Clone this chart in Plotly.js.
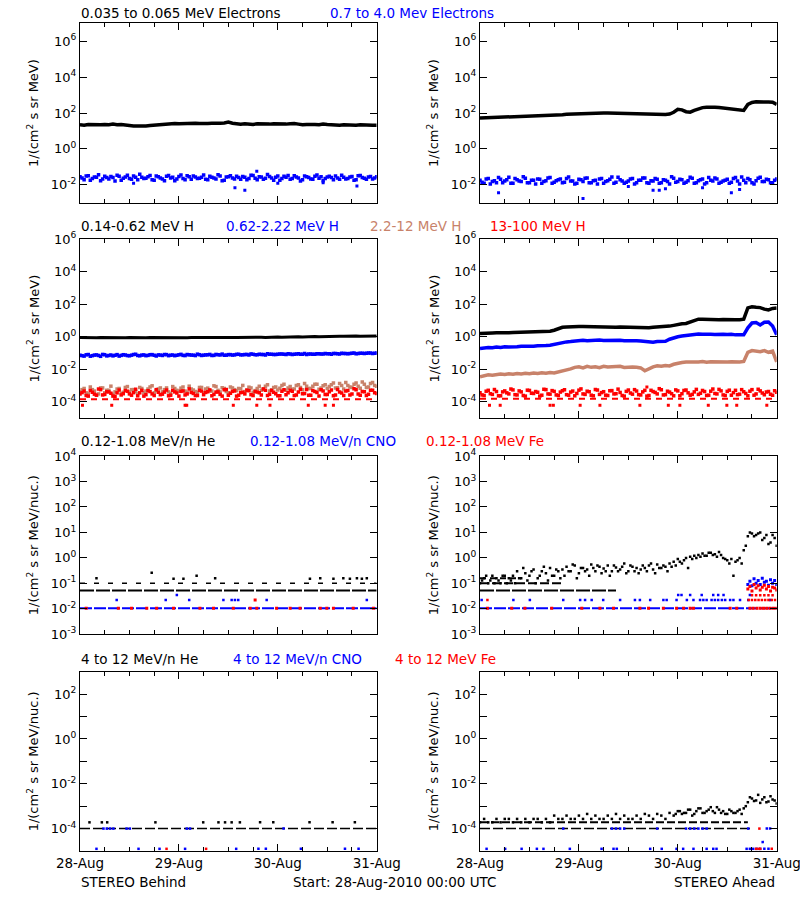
<!DOCTYPE html>
<html><head><meta charset="utf-8">
<script src="https://cdn.plot.ly/plotly-3.0.1.min.js"></script>
<style>html,body{margin:0;padding:0;background:#fff}#chart{width:800px;height:900px}</style>
</head><body><div id="chart"></div>
<script>
// ---------- time grid (hours since 28-Aug-2010 00:00 UTC) ----------
const HOURS = [0,1,2,3,4,5,6,7,8,9,10,11,12,13,14,15,16,17,18,19,20,21,22,23,24,25,26,27,28,29,30,31,32,33,34,35,36,37,38,39,40,41,42,43,44,45,46,47,48,49,50,51,52,53,54,55,56,57,58,59,60,61,62,63,64,65,66,67,68,69,70,71,72];
const HALF_HOURS = [0.5,1.5,2.5,3.5,4.5,5.5,6.5,7.5,8.5,9.5,10.5,11.5,12.5,13.5,14.5,15.5,16.5,17.5,18.5,19.5,20.5,21.5,22.5,23.5,24.5,25.5,26.5,27.5,28.5,29.5,30.5,31.5,32.5,33.5,34.5,35.5,36.5,37.5,38.5,39.5,40.5,41.5,42.5,43.5,44.5,45.5,46.5,47.5,48.5,49.5,50.5,51.5,52.5,53.5,54.5,55.5,56.5,57.5,58.5,59.5,60.5,61.5,62.5,63.5,64.5,65.5,66.5,67.5,68.5,69.5,70.5,71.5];
const DAY_TICKS = [0,24,48,72];
const DAY_LABELS = ['28-Aug','29-Aug','30-Aug','31-Aug'];

// ---------- row 1 : electrons ----------
const E_LO_B = [22,21,23,22,21,22,23,22,24,22, 23,21,20,19,19,18,19,20,21,23, 24,25,24,26,25,26,25,26,27,26, 25,26,27,26,27,28,31,27,25,24, 25,24,23,25,24,23,24,25,24,23, 24,25,26,24,22,23,24,23,22,24, 23,22,22,21,22,21,20,21,22,21, 20,21,21];
const E_HI_B = [0.028,0.019,0.032,0.022,0.026,0.017,0.030,0.021,0.025,0.034, 0.018,0.027,0.022,0.031,0.019,0.026,0.023,0.033,0.018,0.028, 0.021,0.030,0.024,0.017,0.029,0.022,0.032,0.020,0.027,0.023, 0.035,0.019,0.026,0.021,0.031,0.018,0.028,0.024,0.030,0.020, 0.026,0.022,0.033,0.019,0.027,0.023,0.029,0.018,0.031,0.022, 0.026,0.020,0.032,0.024,0.019,0.028,0.021,0.030,0.023,0.017, 0.027,0.025,0.031,0.020,0.026,0.022,0.029,0.019,0.033,0.023, 0.027,0.021,0.028];
const E_HI_B2 = [0.024,0.031,0.018,0.027,0.036,0.021,0.025,0.029,0.016,0.030, 0.023,0.034,0.020,0.026,0.038,0.022,0.028,0.019,0.031,0.024, 0.017,0.033,0.026,0.021,0.035,0.019,0.028,0.031,0.022,0.026, 0.020,0.030,0.024,0.036,0.017,0.027,0.032,0.021,0.025,0.029, 0.019,0.034,0.023,0.028,0.020,0.037,0.024,0.026,0.018,0.030, 0.033,0.022,0.027,0.016,0.031,0.025,0.020,0.035,0.028,0.022, 0.030,0.019,0.024,0.034,0.021,0.027,0.018,0.032,0.025,0.020, 0.029,0.024];
const E_HI_B_OUT_X = [13,37.6,40,42.9,48,59,67.2];
const E_HI_B_OUT_Y = [0.012,0.0068,0.005,0.057,0.012,0.013,0.0085];
const E_LO_A = [52,53,55,54,56,58,57,59,60,62, 61,63,65,66,68,70,72,74,76,78, 80,84,86,90,95,98,100,97,102,99, 101,100,98,96,99,97,95,96,94,92, 90,88,85,82,80,83,88,110,160,150, 118,112,140,170,200,210,215,210,200,190, 180,170,160,150,140,300,390,420,430,420, 410,400,300];
const E_HI_A = [0.018,0.012,0.022,0.015,0.013,0.020,0.016,0.026,0.012,0.019, 0.015,0.023,0.013,0.018,0.021,0.012,0.017,0.025,0.014,0.019, 0.013,0.022,0.016,0.011,0.020,0.015,0.024,0.013,0.018,0.021, 0.012,0.017,0.027,0.014,0.019,0.012,0.016,0.022,0.013,0.018, 0.024,0.012,0.016,0.020,0.013,0.018,0.011,0.023,0.015,0.019, 0.014,0.026,0.012,0.017,0.021,0.013,0.018,0.024,0.012,0.016, 0.020,0.014,0.025,0.011,0.018,0.022,0.013,0.017,0.026,0.015, 0.019,0.013,0.021];
const E_HI_A2 = [0.014,0.021,0.011,0.017,0.025,0.013,0.019,0.012,0.022,0.016, 0.028,0.013,0.018,0.011,0.020,0.015,0.024,0.012,0.017,0.021, 0.014,0.027,0.016,0.012,0.019,0.023,0.013,0.017,0.011,0.022, 0.015,0.020,0.012,0.026,0.016,0.014,0.021,0.011,0.018,0.024, 0.013,0.017,0.022,0.012,0.019,0.015,0.028,0.014,0.020,0.012, 0.017,0.023,0.013,0.019,0.011,0.025,0.016,0.021,0.014,0.018, 0.012,0.022,0.016,0.027,0.013,0.019,0.011,0.023,0.015,0.020, 0.013,0.018];
const E_HI_A_OUT_X = [4.5,25,36,42,43.5,45,54,61,63];
const E_HI_A_OUT_Y = [0.0036,0.0017,0.008,0.005,0.005,0.006,0.0068,0.0036,0.0055];

// ---------- row 2 : protons ----------
const P1_B = [0.88,0.86,0.89,0.87,0.85,0.88,0.86,0.87,0.89,0.86, 0.87,0.85,0.88,0.86,0.87,0.85,0.86,0.88,0.87,0.86, 0.88,0.87,0.89,0.86,0.88,0.87,0.86,0.88,0.89,0.87, 0.88,0.90,0.87,0.89,0.88,0.90,0.89,0.91,0.88,0.90, 0.91,0.89,0.92,0.90,0.93,0.91,0.94,0.92,0.95,0.93, 0.96,0.94,0.97,0.98,0.96,1.00,0.98,1.02,1.00,1.03, 1.05,1.03,1.06,1.08,1.05,1.09,1.07,1.10,1.08,1.11, 1.10,1.12,1.10];
const P2_B = [0.072,0.064,0.080,0.068,0.076,0.062,0.078,0.070,0.066,0.079, 0.071,0.075,0.067,0.080,0.070,0.074,0.068,0.078,0.072,0.076, 0.070,0.079,0.073,0.068,0.077,0.071,0.080,0.074,0.069,0.078, 0.073,0.077,0.070,0.081,0.075,0.072,0.079,0.074,0.082,0.076, 0.080,0.075,0.083,0.078,0.081,0.076,0.084,0.079,0.082,0.086, 0.080,0.085,0.082,0.088,0.084,0.080,0.087,0.083,0.089,0.085, 0.088,0.084,0.091,0.087,0.093,0.089,0.095,0.090,0.097,0.092, 0.098,0.094,0.100];
const P2_B2 = [0.068,0.077,0.063,0.074,0.070,0.081,0.066,0.075,0.072,0.064, 0.078,0.069,0.073,0.083,0.067,0.076,0.071,0.079,0.065,0.074, 0.080,0.068,0.075,0.072,0.082,0.069,0.077,0.073,0.084,0.070, 0.076,0.081,0.071,0.078,0.085,0.073,0.079,0.076,0.083,0.077, 0.081,0.087,0.078,0.084,0.080,0.088,0.082,0.079,0.086,0.083, 0.089,0.081,0.087,0.084,0.091,0.086,0.083,0.090,0.087,0.094, 0.089,0.092,0.088,0.096,0.091,0.094,0.099,0.093,0.097,0.095, 0.101,0.096];
const P3_B = [4.0e-4,6.5e-4,3.0e-4,5.5e-4,2.6e-4,7.0e-4,3.5e-4,5.0e-4,2.8e-4,6.0e-4, 3.2e-4,7.5e-4,4.0e-4,5.5e-4,3.0e-4,6.5e-4,4.5e-4,8.0e-4,3.5e-4,6.0e-4, 4.0e-4,7.0e-4,3.2e-4,6.5e-4,4.5e-4,8.0e-4,3.8e-4,6.0e-4,4.2e-4,7.5e-4, 3.6e-4,6.8e-4,4.5e-4,8.5e-4,4.0e-4,6.5e-4,3.5e-4,7.0e-4,4.8e-4,6.2e-4, 4.2e-4,7.8e-4,3.8e-4,6.5e-4,5.0e-4,9.0e-4,4.5e-4,7.5e-4,5.2e-4,1.0e-3, 5.0e-4,8.5e-4,6.0e-4,1.1e-3,5.5e-4,9.0e-4,6.5e-4,1.2e-3,5.8e-4,9.5e-4, 6.5e-4,1.1e-3,7.0e-4,1.3e-3,6.0e-4,1.0e-3,7.5e-4,1.4e-3,6.8e-4,1.2e-3, 8.0e-4,1.5e-3,9.0e-4];
const P3_B2 = [5.5e-4,3.5e-4,8.0e-4,4.5e-4,3.0e-4,7.0e-4,5.0e-4,9.0e-4,4.0e-4,6.5e-4, 3.8e-4,8.5e-4,5.5e-4,4.2e-4,7.5e-4,3.5e-4,6.0e-4,9.5e-4,4.8e-4,7.0e-4, 5.5e-4,4.0e-4,8.5e-4,5.0e-4,6.8e-4,4.5e-4,9.0e-4,5.2e-4,3.8e-4,7.5e-4, 6.0e-4,4.5e-4,9.5e-4,5.0e-4,7.2e-4,4.2e-4,8.0e-4,5.5e-4,6.5e-4,1.0e-3, 5.2e-4,7.0e-4,4.8e-4,9.0e-4,6.2e-4,1.1e-3,5.5e-4,8.0e-4,6.8e-4,1.2e-3, 7.0e-4,5.8e-4,1.0e-3,7.5e-4,1.3e-3,6.5e-4,9.0e-4,1.2e-3,7.0e-4,1.1e-3, 8.5e-4,1.4e-3,7.2e-4,1.0e-3,1.5e-3,8.0e-4,1.2e-3,9.0e-4,1.6e-3,7.5e-4, 1.3e-3,1.0e-3];
const P4_B = [3.0e-4,4.5e-4,2.2e-4,3.8e-4,2.5e-4,5.5e-4,2.8e-4,4.0e-4,2.2e-4,3.5e-4, 2.6e-4,4.8e-4,3.0e-4,3.6e-4,2.3e-4,5.0e-4,2.7e-4,4.2e-4,2.4e-4,3.8e-4, 2.9e-4,5.2e-4,2.5e-4,4.0e-4,2.2e-4,4.6e-4,3.0e-4,3.7e-4,2.4e-4,5.0e-4, 2.7e-4,4.1e-4,2.3e-4,3.9e-4,2.8e-4,5.4e-4,2.5e-4,4.3e-4,2.2e-4,3.6e-4, 3.0e-4,4.7e-4,2.4e-4,4.0e-4,2.6e-4,5.1e-4,2.9e-4,3.8e-4,2.3e-4,4.4e-4, 2.7e-4,5.0e-4,2.4e-4,3.9e-4,3.1e-4,5.6e-4,2.5e-4,4.2e-4,2.2e-4,4.6e-4, 2.8e-4,5.3e-4,2.6e-4,4.0e-4,2.4e-4,4.8e-4,3.0e-4,5.5e-4,2.5e-4,4.1e-4, 2.9e-4,5.0e-4,3.2e-4];
const P4_B2 = [3.6e-4,2.4e-4,4.9e-4,2.9e-4,6.0e-4,2.6e-4,4.1e-4,3.3e-4,2.1e-4,5.2e-4, 3.1e-4,4.4e-4,2.5e-4,5.8e-4,3.5e-4,2.2e-4,4.7e-4,3.0e-4,5.5e-4,2.7e-4, 3.9e-4,2.3e-4,5.0e-4,3.4e-4,4.3e-4,2.6e-4,6.1e-4,3.2e-4,2.4e-4,4.5e-4, 3.7e-4,5.3e-4,2.8e-4,4.0e-4,2.2e-4,5.6e-4,3.3e-4,4.6e-4,2.5e-4,3.8e-4, 5.1e-4,2.7e-4,4.2e-4,3.5e-4,6.0e-4,2.4e-4,4.8e-4,3.1e-4,2.3e-4,5.4e-4, 3.6e-4,4.4e-4,2.6e-4,5.9e-4,3.2e-4,2.5e-4,4.9e-4,3.7e-4,5.5e-4,2.8e-4, 4.1e-4,2.3e-4,5.7e-4,3.4e-4,4.5e-4,2.6e-4,6.2e-4,3.0e-4,4.3e-4,2.4e-4, 5.0e-4,3.5e-4];
const P4_B_LVL_X = [0,72];
const P4_B_LVL_Y = [1.4e-4,1.4e-4];
const P4_B_OUT_X = [0.6,7.7,25.5,25.9,37.2,42.9,46.1,55.4,59.5,61.5];
const P4_B_OUT_Y = [6e-5,6e-5,6e-5,6e-5,6e-5,6e-5,6e-5,6e-5,6e-5,6e-5];
const P1_A = [1.6,1.7,1.65,1.7,1.75,1.7,1.8,1.75,1.8,1.85, 1.8,1.9,1.85,1.9,2.0,2.0,2.1,2.2,2.5,3.2, 3.8,4.0,4.2,4.1,4.3,4.2,4.1,4.0,4.1,3.9, 4.0,4.1,3.9,3.8,4.0,3.9,3.8,3.7,3.8,3.9, 3.7,3.6,3.8,3.9,4.0,4.2,4.5,5.0,5.8,6.2, 6.5,8,11,12,12,11.5,12,11.5,11,11.5, 11,11.5,11,11,12,60,70,65,62,50, 45,55,58];
const P2_A = [0.19,0.21,0.22,0.21,0.23,0.22,0.24,0.23,0.25,0.24, 0.26,0.25,0.27,0.26,0.28,0.27,0.29,0.30,0.34,0.42, 0.46,0.48,0.5,0.55,0.58,0.6,0.57,0.61,0.59,0.62, 0.58,0.6,0.57,0.59,0.6,0.56,0.58,0.55,0.57,0.54, 0.5,0.48,0.46,0.5,0.48,0.52,0.7,0.85,1.0,1.1, 1.2,1.35,1.4,1.45,1.4,1.5,1.42,1.38,1.45,1.4, 1.36,1.42,1.3,1.25,1.3,3.5,7.0,7.5,5.3,7.8, 8.0,4.6,1.3];
const P3_A = [0.0034,0.0040,0.0045,0.0042,0.0048,0.0050,0.0047,0.0052,0.0049,0.0055, 0.0051,0.0056,0.0053,0.0058,0.0054,0.0060,0.0057,0.0062,0.0059,0.0068, 0.0072,0.0090,0.0105,0.013,0.014,0.012,0.015,0.013,0.014,0.0125, 0.015,0.0135,0.014,0.013,0.015,0.0128,0.014,0.0135,0.013,0.012, 0.008,0.011,0.014,0.016,0.015,0.017,0.016,0.020,0.024,0.026, 0.028,0.027,0.029,0.028,0.030,0.027,0.029,0.028,0.030,0.027, 0.028,0.029,0.027,0.028,0.030,0.11,0.14,0.13,0.12,0.14, 0.11,0.13,0.028];
const P4_A = [3.5e-4,2.4e-4,5.0e-4,2.8e-4,4.2e-4,2.3e-4,4.6e-4,3.0e-4,5.3e-4,2.6e-4, 4.0e-4,2.2e-4,4.9e-4,3.2e-4,3.8e-4,2.5e-4,5.5e-4,2.9e-4,4.3e-4,2.4e-4, 4.7e-4,2.7e-4,3.9e-4,2.3e-4,5.1e-4,3.0e-4,4.4e-4,2.5e-4,5.6e-4,2.8e-4, 4.1e-4,2.4e-4,4.8e-4,3.1e-4,3.7e-4,2.2e-4,5.2e-4,2.9e-4,4.5e-4,2.6e-4, 5.0e-4,2.4e-4,4.2e-4,3.0e-4,5.4e-4,2.7e-4,3.9e-4,2.3e-4,4.6e-4,3.1e-4, 5.2e-4,2.5e-4,4.0e-4,2.8e-4,4.9e-4,2.4e-4,4.4e-4,3.2e-4,5.7e-4,2.6e-4, 4.3e-4,2.5e-4,5.0e-4,2.9e-4,4.1e-4,2.3e-4,5.5e-4,3.0e-4,4.6e-4,2.7e-4, 4.2e-4,2.5e-4,3.8e-4];
const P4_A2 = [2.6e-4,4.4e-4,3.1e-4,5.6e-4,2.3e-4,4.0e-4,3.5e-4,6.0e-4,2.7e-4,4.6e-4, 2.4e-4,5.1e-4,3.3e-4,4.2e-4,2.2e-4,5.8e-4,3.0e-4,4.8e-4,2.6e-4,3.9e-4, 5.4e-4,2.5e-4,4.5e-4,3.2e-4,6.1e-4,2.8e-4,4.1e-4,2.3e-4,5.2e-4,3.6e-4, 2.5e-4,4.7e-4,3.0e-4,5.9e-4,2.4e-4,4.3e-4,3.4e-4,5.5e-4,2.7e-4,4.0e-4, 2.2e-4,5.0e-4,3.7e-4,6.3e-4,2.6e-4,4.4e-4,3.1e-4,5.3e-4,2.3e-4,4.9e-4, 3.5e-4,2.8e-4,5.7e-4,3.3e-4,4.2e-4,2.5e-4,6.0e-4,3.0e-4,4.6e-4,2.4e-4, 5.1e-4,3.6e-4,2.7e-4,5.5e-4,3.2e-4,4.4e-4,2.5e-4,5.8e-4,3.4e-4,4.0e-4, 2.9e-4,4.7e-4];
const P4_A_LVL_X = [0,72];
const P4_A_LVL_Y = [1.5e-4,1.5e-4];
const P4_A_OUT_X = [2.3,4.9,17,17.8,24.3,29.1,38.8,40.5,45.7,48.5,55.4,59.9,62.3,69.6];
const P4_A_OUT_Y = [6e-5,6e-5,6e-5,6e-5,6e-5,6e-5,6e-5,8e-4,6e-5,6e-5,6e-5,6e-5,6e-5,6e-5];

// ---------- row 3 : 0.12-1.08 MeV/n heavy ions ----------
const HE_B_BASE_X = [0,72];
const HE_B_BASE_Y = [0.052,0.052];
const HE_B_LVL_X = [0,72];
const HE_B_LVL_Y = [0.1,0.1];
const HE_B_OUT_X = [4,17.4,22.7,25.1,28.3,32.8,55.8,58.3,61.5,63.9,65.5,67.2,68.4,69.6];
const HE_B_OUT_Y = [0.16,0.26,0.15,0.15,0.2,0.16,0.15,0.16,0.15,0.16,0.15,0.16,0.15,0.16];
const CNO_B_BASE_X = [0,72];
const CNO_B_BASE_Y = [0.0105,0.0105];
const CNO_B_DOT_X = [8.9,20.8,23.5,26.5,34.8,36.8,37.6,38.4,45.3,69.6];
const CNO_B_DOT_Y = [0.022,0.022,0.035,0.022,0.022,0.022,0.022,0.022,0.022,0.022];
const FE_B_DOT_X = [1.5,9.3,12.5,16.2,18.6,22.7,29.1,32.4,37.2,41.3,42.9,47.7,51,53.4,58.3,59.9,61.5,66.3,71.2,42.5];
const FE_B_DOT_Y = [0.0105,0.0105,0.0105,0.0105,0.0105,0.0105,0.0105,0.0105,0.0105,0.0105,0.0105,0.0105,0.0105,0.0105,0.0105,0.0105,0.0105,0.0105,0.0105,0.022];
const HE_A_BASE_X = [0,33];
const HE_A_BASE_Y = [0.052,0.052];
const HE_A_L1_X = [0,20];
const HE_A_L1_Y = [0.1,0.1];
const HE_A_L2_X = [0,10];
const HE_A_L2_Y = [0.16,0.16];
const HE_A1 = [0.10,0.16,0.10,0.2,0.16,0.10,0.2,0.16,0.2,0.3, 0.16,0.25,0.2,0.35,0.16,0.3,0.25,0.4,0.2,0.3, 0.35,0.45,0.3,0.5,0.25,0.4,0.35,0.55,0.3,0.45, 0.38,0.5,0.3,0.42,0.35,0.6,0.3,0.45,0.4,0.35, 0.4,0.5,0.35,0.55,0.4,0.45,0.6,0.7,0.9,0.6, 1.0,1.1,1.2,1.3,1.5,1.2,1.6,1.4,1.7,1.0, 0.8,0.9,0.7,1.0,2.0,7,9,8,10,6, 3.5,8,3];
const HE_A2 = [0.13,0.2,0.13,0.1,0.13,0.2,0.1,0.13,0.1,0.16, 0.4,0.13,0.3,0.1,0.2,0.45,0.13,0.2,0.35,0.16, 0.2,0.3,0.55,0.16,0.4,0.3,0.2,0.4,0.5,0.25, 0.3,0.2,0.5,0.3,0.45,0.25,0.5,0.3,0.25,0.5, 0.3,0.6,0.25,0.4,0.5,0.3,0.45,0.5,0.7,0.8, 0.4,0.9,1.0,1.1,1.2,1.6,1.3,1.1,1.3,0.9, 0.6,0.2,0.8,0.6,3.0,10,7,9,5,8, 4,6];
const CNO_A_BASE_X = [0,72];
const CNO_A_BASE_Y = [0.0105,0.0105];
const CNO_A_D1_X = [0.4,8.1,12.1,20.2,24.3,25.5,27.1,29.9,34,37.6,38.8,41.3,44.5,45.3,47.7,50.2,51.8,53.4,54.2,55,56.2,57,57.8,58.7,59.5,60.7,61.5,63.1,65.1,70.4];
const CNO_A_D1_Y = [0.022,0.022,0.022,0.022,0.022,0.022,0.022,0.022,0.022,0.022,0.022,0.022,0.022,0.022,0.022,0.022,0.022,0.022,0.022,0.022,0.022,0.022,0.022,0.022,0.022,0.022,0.022,0.022,0.022,0.022];
const CNO_A_D2_X = [48.1,48.9,51,53.8,56.6,57.8,59.1,65.5];
const CNO_A_D2_Y = [0.035,0.035,0.035,0.035,0.035,0.035,0.035,0.035];
const CNO_A_HI_X = [65,65.5,66,66.5,67,67.5,68,68.5,69,69.5,70,70.5,71,71.5,72];
const CNO_A_HI_Y = [0.09,0.12,0.08,0.15,0.10,0.13,0.09,0.16,0.11,0.12,0.085,0.14,0.10,0.13,0.09];
const FE_A_D0_X = [1.8,7.7,10.9,17.4,24.7,29.1,32.4,38.8,40.9,44.5,47.7,49.4,51,51.8,60.7,62.3,65.5,66.3,67.2,68,68.8,69.6,70.4,71.2,72];
const FE_A_D0_Y = [0.0105,0.0105,0.0105,0.0105,0.0105,0.0105,0.0105,0.0105,0.0105,0.0105,0.0105,0.0105,0.0105,0.0105,0.0105,0.0105,0.0105,0.0105,0.0105,0.0105,0.0105,0.0105,0.0105,0.0105,0.0105];
const FE_A_D1_X = [1.8,65.2,66,66.8,67.6,68.4,69.2,70,70.8,71.6,66,67,68,69,70,71];
const FE_A_D1_Y = [0.022,0.022,0.022,0.022,0.022,0.022,0.022,0.022,0.022,0.022,0.034,0.034,0.034,0.034,0.034,0.034];
const FE_A_HI_X = [65,65.5,66,66.5,67,67.5,68,68.5,69,69.5,70,70.5,71,71.5,72];
const FE_A_HI_Y = [0.06,0.075,0.05,0.09,0.065,0.08,0.055,0.07,0.085,0.06,0.075,0.05,0.07,0.065,0.055];

// ---------- row 4 : 4-12 MeV/n heavy ions ----------
const HE4_B_BASE_X = [0,72];
const HE4_B_BASE_Y = [1e-4,1e-4];
const HE4_B_DOT_X = [2.3,5.3,6.6,18.3,29.9,33.6,35.2,36.8,38.8,43.7,46.9,55.7,61.3,66.7];
const HE4_B_DOT_Y = [1.9e-4,1.9e-4,1.9e-4,1.9e-4,1.9e-4,1.9e-4,1.9e-4,1.9e-4,1.9e-4,1.9e-4,1.9e-4,1.9e-4,1.9e-4,1.9e-4];
const CNO4_B_X = [4,14.2,19.3,25.5,37.9,43.3,45.1,53.6,64.3,67.6,5.7,6.5,7.3,8.1,11.3,12.1,25.9,26.7,49.4];
const CNO4_B_Y = [1.25e-5,1.25e-5,1.25e-5,1.25e-5,1.25e-5,1.25e-5,1.25e-5,1.25e-5,1.25e-5,1.25e-5,1e-4,1e-4,1e-4,1e-4,1e-4,1e-4,1e-4,1e-4,1e-4];
const FE4_B_X = [21,30.6];
const FE4_B_Y = [1.25e-5,1.25e-5];
const HE4_A_BASE_X = [0,65.5];
const HE4_A_BASE_Y = [1e-4,1e-4];
const HE4_A_L2_X = [0,65];
const HE4_A_L2_Y = [1.9e-4,1.9e-4];
const HE4_A1 = [1.9e-4,2.7e-4,1.9e-4,1.9e-4,2.7e-4,1.9e-4,2.7e-4,2.7e-4,1.9e-4,2.7e-4, 1.9e-4,2.7e-4,1.9e-4,2.7e-4,2.7e-4,1.9e-4,2.7e-4,1.9e-4,3.8e-4,2.7e-4, 2.7e-4,3.8e-4,2.7e-4,2.7e-4,3.8e-4,2.7e-4,4.5e-4,2.7e-4,3.8e-4,2.7e-4, 2.7e-4,3.8e-4,2.7e-4,4.5e-4,2.7e-4,3.8e-4,2.7e-4,2.7e-4,3.8e-4,2.7e-4, 4.5e-4,3.8e-4,2.7e-4,4.5e-4,3.8e-4,2.7e-4,5e-4,3.8e-4,6e-4,4.5e-4, 5e-4,7e-4,4.5e-4,8e-4,5e-4,6e-4,9e-4,5e-4,7e-4,6e-4, 4.5e-4,6e-4,5e-4,7e-4,8e-4,1.5e-3,2.2e-3,1.8e-3,1.4e-3,2.5e-3, 1.6e-3,2.0e-3,1.3e-3];
const HE4_A2_X = [47.5,48.5,49.5,50.5,51.5,52.5,53.5,54.5,55.5,56.5,57.5,58.5,59.5,60.5,61.5,62.5,63.5,64.5,65.5,66.5,67.5,68.5,69.5,70.5,71.5];
const HE4_A2_Y = [4.5e-4,6e-4,5e-4,7e-4,3.8e-4,6e-4,8e-4,5e-4,7e-4,6e-4,9e-4,5e-4,4.5e-4,7e-4,5e-4,6e-4,4.5e-4,1e-3,2.5e-3,1.7e-3,3.2e-3,2e-3,1.5e-3,2.8e-3,1.8e-3];
const CNO4_A_X = [1.6,6.1,10.1,13.8,15.4,21.8,29.5,32.4,33.2,41.3,44.1,47.7,49.3,51.8,55,56.6,57.4,64.7,65.5,66.3,67.1,68,69,70, 20.2,32,33,34,35,43,50,51,52,53,54,55,65.1,69.6,70.4, 68.6];
const CNO4_A_Y = [1.25e-5,1.25e-5,1.25e-5,1.25e-5,1.25e-5,1.25e-5,1.25e-5,1.25e-5,1.25e-5,1.25e-5,1.25e-5,1.25e-5,1.25e-5,1.25e-5,1.25e-5,1.25e-5,1.25e-5,1.25e-5,1.25e-5,1.25e-5,1.25e-5,1.25e-5,1.25e-5,1.25e-5, 1e-4,1e-4,1e-4,1e-4,1e-4,1e-4,1e-4,1e-4,1e-4,1e-4,1e-4,1e-4,1e-4,1e-4,1e-4, 2.5e-5];
const FE4_A_X = [67,67.6,68,70.8,67.8];
const FE4_A_Y = [1.25e-5,1.25e-5,1.25e-5,1.25e-5,1e-4];

// ---------- text ----------
const ROW_TITLES = [
  [['0.035 to 0.065 MeV Electrons','k'],['0.7 to 4.0 Mev Electrons','b']],
  [['0.14-0.62 MeV H','k'],['0.62-2.22 MeV H','b'],['2.2-12 MeV H','t'],['13-100 MeV H','r']],
  [['0.12-1.08 MeV/n He','k'],['0.12-1.08 MeV/n CNO','b'],['0.12-1.08 MeV Fe','r']],
  [['4 to 12 MeV/n He','k'],['4 to 12 MeV/n CNO','b'],['4 to 12 MeV Fe','r']]
];
const Y_TITLES = ['1/(cm<sup>2</sup> s sr MeV)','1/(cm<sup>2</sup> s sr MeV)','1/(cm<sup>2</sup> s sr MeV/nuc.)','1/(cm<sup>2</sup> s sr MeV/nuc.)'];
const FOOTER = ['STEREO Behind','Start: 28-Aug-2010 00:00 UTC','STEREO Ahead'];
const Y_TICKVALS = [
  [1e-2,1,1e2,1e4,1e6],
  [1e-4,1e-2,1,1e2,1e4,1e6],
  [1e-3,1e-2,1e-1,1,1e1,1e2,1e3,1e4],
  [1e-5,1e-4,1e-3,1e-2,1e-1,1,1e1,1e2,1e3]
];
const Y_TICKTEXT = [
  ['10<sup>-2</sup>','10<sup>0</sup>','10<sup>2</sup>','10<sup>4</sup>','10<sup>6</sup>'],
  ['10<sup>-4</sup>','10<sup>-2</sup>','10<sup>0</sup>','10<sup>2</sup>','10<sup>4</sup>','10<sup>6</sup>'],
  ['10<sup>-3</sup>','10<sup>-2</sup>','10<sup>-1</sup>','10<sup>0</sup>','10<sup>1</sup>','10<sup>2</sup>','10<sup>3</sup>','10<sup>4</sup>'],
  ['','10<sup>-4</sup>','','10<sup>-2</sup>','','10<sup>0</sup>','','10<sup>2</sup>','']
];

// ---------- styling / layout ----------
const FONT = 'DejaVu Sans, Liberation Sans, sans-serif';
const FS = 13.5;
const COL = {k:'#000000', b:'#0000FF', t:'#C8826A', r:'#FF0000'};
const W = 800, H = 900;
const XPIX = [[80,376.7],[480,776.7]];
const YPIX = [[23.3,202.7],[239.3,417.9],[456,634.3],[671.7,851]];
const YRANGE = [[-3,7],[-5,6],[-3,4],[-5,3]];
const TITLE_X = [[80,329],[80,225,369,489],[80,249,425],[80,232,394]];
const TITLE_Y = [13,226,441,659];

const traces = [];
function axes(p){ const n = p+1; return {xaxis: n===1?'x':'x'+n, yaxis: n===1?'y':'y'+n}; }
function base(p,x,y){ return Object.assign({type:'scatter', x:x, y:y, hoverinfo:'skip', showlegend:false, cliponaxis:true}, axes(p)); }
function line(p,x,y,c,w){ traces.push(Object.assign(base(p,x,y),{mode:'lines', line:{color:COL[c], width:w}})); }
function dots(p,x,y,c,s){ traces.push(Object.assign(base(p,x,y),{mode:'markers', marker:{color:COL[c], size:s, symbol:'square', line:{width:0}}})); }
function level(p,x,y,c,w,dash){ traces.push(Object.assign(base(p,x,y),{mode:'lines', line:{color:COL[c], width:w, dash:dash}})); }

// panel 0 : Behind electrons
line(0, HOURS, E_LO_B, 'k', 3.5);
dots(0, HOURS, E_HI_B, 'b', 3.5);
dots(0, HALF_HOURS, E_HI_B2, 'b', 3.5);
dots(0, E_HI_B_OUT_X, E_HI_B_OUT_Y, 'b', 3);
// panel 1 : Ahead electrons
line(1, HOURS, E_LO_A, 'k', 3.5);
dots(1, HOURS, E_HI_A, 'b', 3.5);
dots(1, HALF_HOURS, E_HI_A2, 'b', 3.5);
dots(1, E_HI_A_OUT_X, E_HI_A_OUT_Y, 'b', 3);
// panel 2 : Behind protons
line(2, HOURS, P1_B, 'k', 3);
dots(2, HOURS, P2_B, 'b', 3.5);
dots(2, HALF_HOURS, P2_B2, 'b', 3.5);
dots(2, HOURS, P3_B, 't', 3.5);
dots(2, HALF_HOURS, P3_B2, 't', 3.5);
dots(2, HOURS, P4_B, 'r', 3.5);
dots(2, HALF_HOURS, P4_B2, 'r', 3.5);
level(2, P4_B_LVL_X, P4_B_LVL_Y, 'r', 2, '6px,5px');
dots(2, P4_B_OUT_X, P4_B_OUT_Y, 'r', 3);
// panel 3 : Ahead protons
line(3, HOURS, P1_A, 'k', 3.5);
line(3, HOURS, P2_A, 'b', 3.5);
line(3, HOURS, P3_A, 't', 3.5);
dots(3, HOURS, P4_A, 'r', 3.5);
dots(3, HALF_HOURS, P4_A2, 'r', 3.5);
level(3, P4_A_LVL_X, P4_A_LVL_Y, 'r', 2, '6px,5px');
dots(3, P4_A_OUT_X, P4_A_OUT_Y, 'r', 3);
// panel 4 : Behind low-energy heavy ions
level(4, HE_B_BASE_X, HE_B_BASE_Y, 'k', 2, '14px,2px');
level(4, HE_B_LVL_X, HE_B_LVL_Y, 'k', 1.5, '5px,9px');
dots(4, HE_B_OUT_X, HE_B_OUT_Y, 'k', 2.5);
level(4, CNO_B_BASE_X, CNO_B_BASE_Y, 'b', 2, '12px,2px');
dots(4, CNO_B_DOT_X, CNO_B_DOT_Y, 'b', 2.5);
dots(4, FE_B_DOT_X, FE_B_DOT_Y, 'r', 3);
// panel 5 : Ahead low-energy heavy ions
level(5, HE_A_BASE_X, HE_A_BASE_Y, 'k', 2, '14px,2px');
level(5, HE_A_L1_X, HE_A_L1_Y, 'k', 2, '9px,3px');
level(5, HE_A_L2_X, HE_A_L2_Y, 'k', 2, '6px,4px');
dots(5, HOURS, HE_A1, 'k', 2.5);
dots(5, HALF_HOURS, HE_A2, 'k', 2.5);
level(5, CNO_A_BASE_X, CNO_A_BASE_Y, 'b', 2, '12px,2px');
dots(5, CNO_A_D1_X, CNO_A_D1_Y, 'b', 2.5);
dots(5, CNO_A_D2_X, CNO_A_D2_Y, 'b', 2.5);
dots(5, CNO_A_HI_X, CNO_A_HI_Y, 'b', 3);
dots(5, FE_A_D0_X, FE_A_D0_Y, 'r', 3);
dots(5, FE_A_D1_X, FE_A_D1_Y, 'r', 2.5);
dots(5, FE_A_HI_X, FE_A_HI_Y, 'r', 3);
// panel 6 : Behind high-energy heavy ions
level(6, HE4_B_BASE_X, HE4_B_BASE_Y, 'k', 1.5, '10px,3px');
dots(6, HE4_B_DOT_X, HE4_B_DOT_Y, 'k', 2.5);
dots(6, CNO4_B_X, CNO4_B_Y, 'b', 2.5);
dots(6, FE4_B_X, FE4_B_Y, 'r', 2.5);
// panel 7 : Ahead high-energy heavy ions
level(7, HE4_A_BASE_X, HE4_A_BASE_Y, 'k', 1.5, '10px,3px');
level(7, HE4_A_L2_X, HE4_A_L2_Y, 'k', 2, '8px,3px');
dots(7, HOURS, HE4_A1, 'k', 2.5);
dots(7, HE4_A2_X, HE4_A2_Y, 'k', 2.5);
dots(7, CNO4_A_X, CNO4_A_Y, 'b', 2.5);
dots(7, FE4_A_X, FE4_A_Y, 'r', 2.5);

const layout = {
  width: W, height: H, margin: {l:0, r:0, t:0, b:0},
  paper_bgcolor: '#ffffff', plot_bgcolor: '#ffffff', showlegend: false,
  font: {family: FONT, size: FS, color: '#000'},
  annotations: []
};
for (let p = 0; p < 8; p++) {
  const r = Math.floor(p/2), c = p % 2, n = p + 1, s = n === 1 ? '' : String(n);
  layout['xaxis' + s] = {
    domain: [XPIX[c][0]/W, XPIX[c][1]/W], range: [0,72], anchor: 'y' + s,
    tickmode: 'array', tickvals: DAY_TICKS, ticktext: DAY_LABELS, showticklabels: r === 3,
    ticklabeloverflow: 'allow',
    ticks: 'inside', ticklen: 7, tickwidth: 1, tickcolor: '#000',
    minor: {tick0: 0, dtick: 6, ticks: 'inside', ticklen: 4, tickwidth: 1, tickcolor: '#000', showgrid: false},
    showline: true, linecolor: '#000', linewidth: 1, mirror: 'allticks',
    showgrid: false, zeroline: false, fixedrange: true,
    tickfont: {family: FONT, size: FS, color: '#000'}
  };
  layout['yaxis' + s] = {
    domain: [1 - YPIX[r][1]/H, 1 - YPIX[r][0]/H], type: 'log', range: YRANGE[r], anchor: 'x' + s,
    tickmode: 'array', tickvals: Y_TICKVALS[r], ticktext: Y_TICKTEXT[r],
    ticklabeloverflow: 'allow',
    ticks: 'inside', ticklen: 7, tickwidth: 1, tickcolor: '#000',
    showline: true, linecolor: '#000', linewidth: 1, mirror: 'allticks',
    showgrid: false, zeroline: false, fixedrange: true,
    tickfont: {family: FONT, size: 13, color: '#000'}
  };
  layout.annotations.push({
    xref: 'paper', yref: 'paper', x: (c === 0 ? 33 : 433)/W, y: 1 - (YPIX[r][0] + YPIX[r][1])/2/H,
    xanchor: 'center', yanchor: 'middle', textangle: -90, showarrow: false,
    text: Y_TITLES[r], font: {family: FONT, size: 13, color: '#000'}
  });
}
ROW_TITLES.forEach((row, r) => row.forEach((item, i) => {
  layout.annotations.push({
    xref: 'paper', yref: 'paper', x: TITLE_X[r][i]/W, y: 1 - TITLE_Y[r]/H,
    xanchor: 'left', yanchor: 'middle', showarrow: false, borderpad: 0,
    text: item[0], font: {family: FONT, size: FS, color: COL[item[1]]}
  });
}));
const FOOT_X = [80, 292, 776], FOOT_ANCHOR = ['left','left','right'];
FOOTER.forEach((t, i) => layout.annotations.push({
  xref: 'paper', yref: 'paper', x: FOOT_X[i]/W, y: 1 - 882/H,
  xanchor: FOOT_ANCHOR[i], yanchor: 'middle', showarrow: false, borderpad: 0,
  text: t, font: {family: FONT, size: FS, color: '#000'}
}));

Plotly.newPlot('chart', traces, layout, {staticPlot: true, displayModeBar: false});
</script>
</body></html>
